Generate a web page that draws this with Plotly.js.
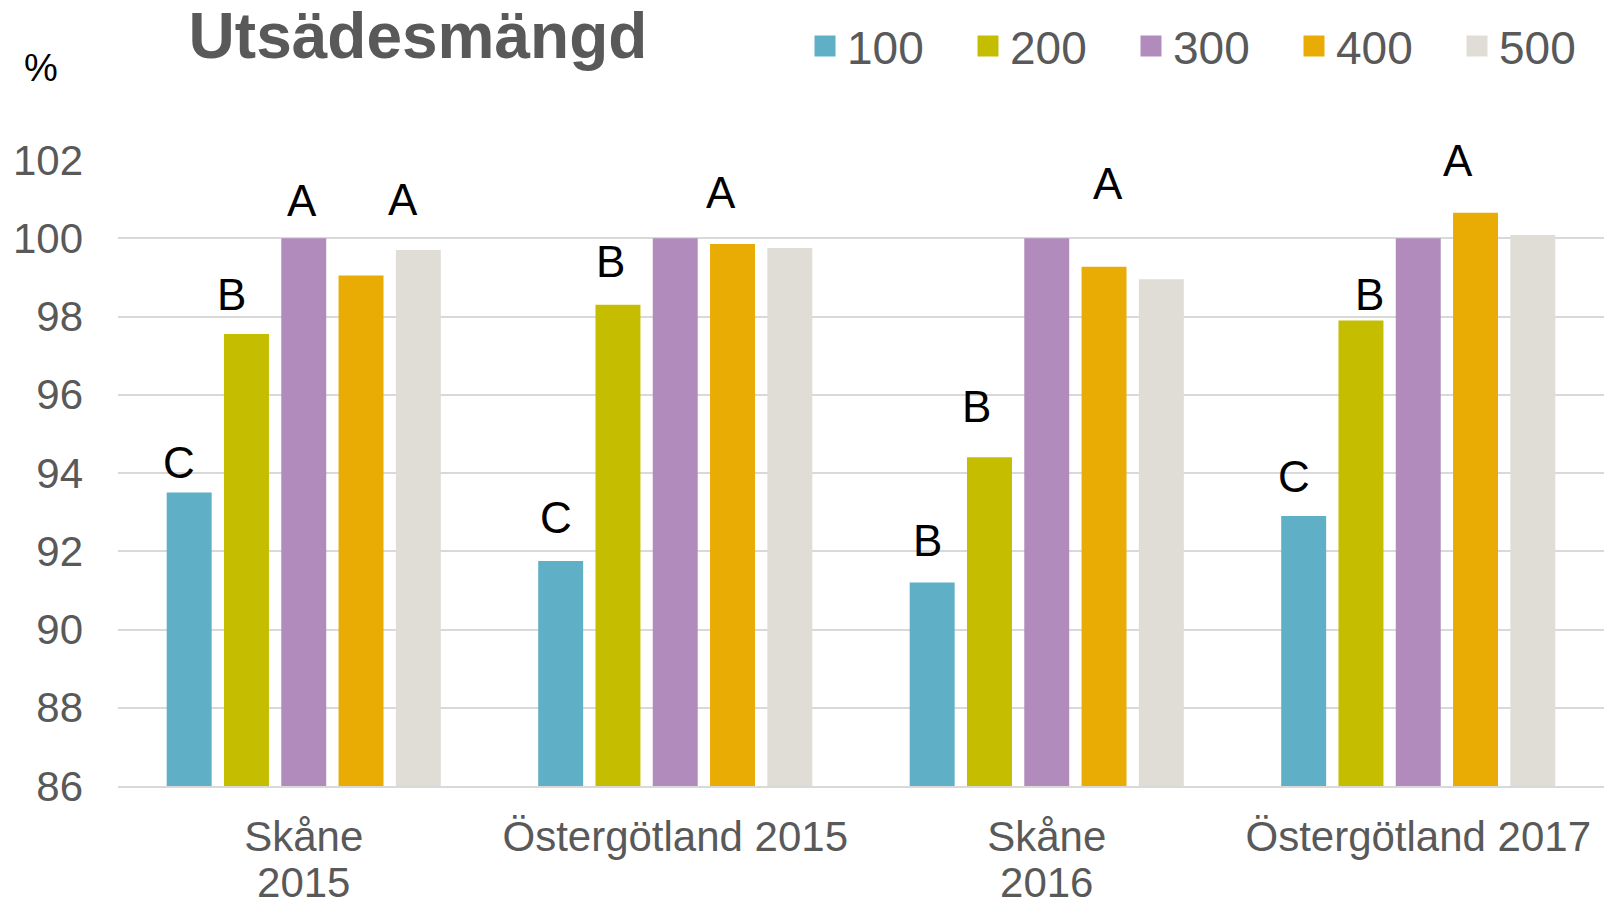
<!DOCTYPE html>
<html>
<head>
<meta charset="utf-8">
<script src="https://cdn.plot.ly/plotly-3.0.1.min.js"></script>
<style>html,body{margin:0;padding:0;background:#fff;}#chart{width:1604px;height:902px;}</style>
</head>
<body>
<div id="chart"></div>
<script>
// ---- data ----
const categories = ['Skåne<br>2015', 'Östergötland 2015', 'Skåne<br>2016', 'Östergötland 2017'];
const seriesNames = ['100', '200', '300', '400', '500'];
const v100 = [93.5, 91.75, 91.2, 92.9];
const v200 = [97.55, 98.3, 94.4, 97.9];
const v300 = [100, 100, 100, 100];
const v400 = [99.05, 99.85, 99.27, 100.65];
const v500 = [99.7, 99.75, 98.95, 100.08];
// significance letters per series / group
const sig100 = ['C', 'C', 'B', 'C'];
const sig200 = ['B', 'B', 'B', 'B'];
const sig300 = ['A', '', '', ''];
const sig400 = ['', 'A', 'A', 'A'];
const sig500 = ['A', '', '', ''];
const yTicks = [86, 88, 90, 92, 94, 96, 98, 100, 102];

// ---- style ----
const colors = ['#5FAFC6', '#C5BE00', '#B08BBC', '#E9AC04', '#DFDDD6'];
const values = [v100, v200, v300, v400, v500];
const sigs = [sig100, sig200, sig300, sig400, sig500];
const FONT = '"Liberation Sans", Arial, sans-serif';
const GREY = '#595959';

const W = 1604, H = 902;
const margin = {l: 118, r: 0, t: 160, b: 116};
const catW = (W - margin.l - margin.r) / categories.length;
const bargap = 0.229;
const slot = catW * (1 - bargap) / seriesNames.length;

// tick labels drawn bigger than the base tick font so that the line spacing stays tight
const tickText = categories.map(c => c.split('<br>').map(s => '<span style="font-size:42px">' + s + '</span>').join('<br>'));

// manual nudges of the letters (px): [dx, dy] per series per group
const nudges = [
  [[-10, 30], [-5, 44], [-5, 42], [-10, 40]],
  [[-15, 40], [-7, 43], [-13, 51], [9, 26]],
  [[-2, 38], [0, 0], [0, 0], [0, 0]],
  [[0, 0], [-12, 52], [4, 83], [-18, 52]],
  [[-15, 50], [0, 0], [0, 0], [0, 0]]
];

const traces = [];
seriesNames.forEach((n, k) => {
  traces.push({
    type: 'bar', name: n, x: categories, y: values[k],
    marker: {color: colors[k]}, showlegend: false, hoverinfo: 'skip'
  });
});
seriesNames.forEach((n, k) => {
  traces.push({
    type: 'scatter', mode: 'markers', name: n, x: [null], y: [null],
    marker: {symbol: 'square', size: 16, color: colors[k], line: {color: colors[k], width: 5}},
    showlegend: true, hoverinfo: 'skip'
  });
});

const annotations = [];
sigs.forEach((arr, k) => {
  arr.forEach((txt, g) => {
    if (!txt) return;
    annotations.push({
      x: g, y: values[k][g], xref: 'x', yref: 'y', text: txt, showarrow: false,
      xanchor: 'center', yanchor: 'middle',
      xshift: (k - 2) * slot + nudges[k][g][0], yshift: nudges[k][g][1],
      font: {family: FONT, size: 44, color: '#000000'}
    });
  });
});
annotations.push({
  xref: 'paper', yref: 'paper', x: (41 - margin.l) / (W - margin.l - margin.r),
  y: (H - margin.b - 68) / (H - margin.t - margin.b), text: '%', showarrow: false,
  xanchor: 'center', yanchor: 'middle', font: {family: FONT, size: 38, color: '#000000'}
});

const layout = {
  width: W, height: H, margin: margin,
  paper_bgcolor: '#ffffff', plot_bgcolor: '#ffffff',
  barmode: 'group', bargap: bargap, bargroupgap: 0.215,
  font: {family: FONT, color: GREY},
  title: {
    text: '<b>Utsädesmängd</b>', xref: 'container', yref: 'container',
    x: 418 / W, xanchor: 'center', y: 1 - 36 / H, yanchor: 'middle',
    font: {family: FONT, size: 64, color: GREY}
  },
  showlegend: true,
  legend: {
    orientation: 'h', xref: 'container', yref: 'container',
    x: 803 / W, xanchor: 'left', y: 1 - 46 / H, yanchor: 'middle',
    font: {family: FONT, size: 46, color: GREY},
    itemwidth: 34, entrywidth: 114, bgcolor: 'rgba(0,0,0,0)', traceorder: 'normal'
  },
  xaxis: {
    type: 'category', showgrid: false, showline: true, linecolor: '#D9D9D9', linewidth: 2,
    tickvals: categories, ticktext: tickText,
    ticks: '', tickfont: {family: FONT, size: 35, color: GREY}, ticklabelstandoff: 21,
    zeroline: false, fixedrange: true
  },
  yaxis: {
    range: [86, 102], tickvals: yTicks, ticktext: yTicks.map(String),
    showgrid: true, gridcolor: '#D9D9D9', gridwidth: 2, showline: false, zeroline: false,
    ticks: '', tickfont: {family: FONT, size: 42, color: GREY}, ticklabelstandoff: 34,
    fixedrange: true
  },
  annotations: annotations
};

Plotly.newPlot('chart', traces, layout, {displayModeBar: false, staticPlot: true});
</script>
</body>
</html>
